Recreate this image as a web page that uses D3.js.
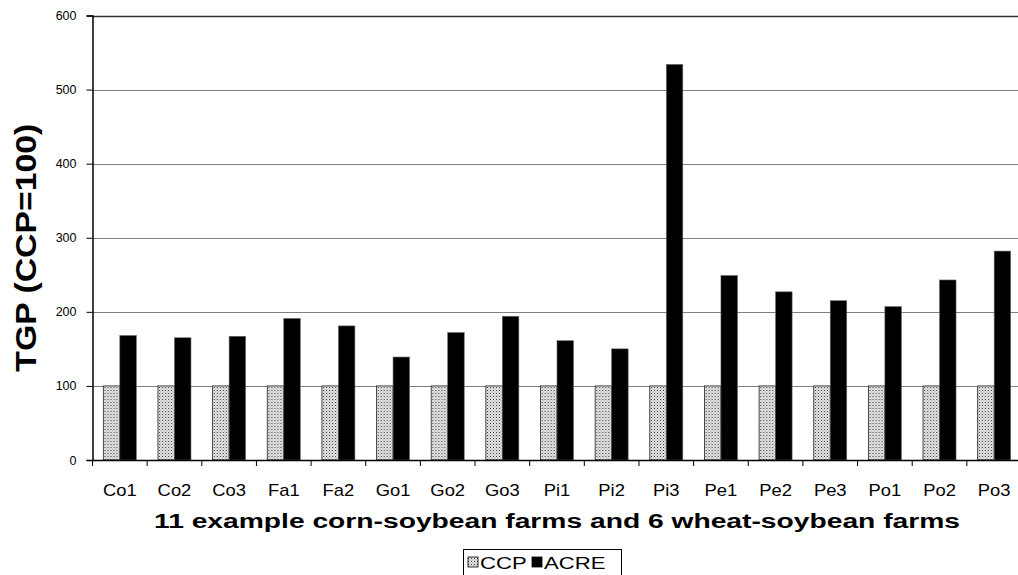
<!DOCTYPE html>
<html>
<head>
<meta charset="utf-8">
<script src="https://cdn.jsdelivr.net/npm/d3@7"></script>
<style>
  html, body { margin: 0; padding: 0; background: #fff; }
  svg { display: block; font-family: "Liberation Sans", Arial, sans-serif; }
</style>
</head>
<body>
<svg id="chart" width="1018" height="575"></svg>
<script>
const categories = ["Co1","Co2","Co3","Fa1","Fa2","Go1","Go2","Go3","Pi1","Pi2","Pi3","Pe1","Pe2","Pe3","Po1","Po2","Po3"];
const seriesNames = ["CCP","ACRE"];
const ccpValues  = [100,100,100,100,100,100,100,100,100,100,100,100,100,100,100,100,100];
const acreValues = [168,165,167,191,181,139,172,194,161,150,534,249,227,215,207,243,282];
const yTicks = [0,100,200,300,400,500,600];
const yTitle = "TGP (CCP=100)";
const xTitle = "11 example corn-soybean farms and 6 wheat-soybean farms";

(function () {
const FONT = '"Liberation Sans", Arial, sans-serif';
const svg = d3.select("#chart");
const defs = svg.append("defs");
const pat = defs.append("pattern").attr("id","dots").attr("patternUnits","userSpaceOnUse")
  .attr("width",3).attr("height",3);
pat.append("rect").attr("width",3).attr("height",3).attr("fill","#e6e6e6");
pat.append("rect").attr("x",0).attr("y",0).attr("width",1).attr("height",1).attr("fill","#333");
pat.append("rect").attr("x",1.5).attr("y",1.5).attr("width",1).attr("height",1).attr("fill","#888");

const mLeft = 92.5, mTop = 15.5, mBottom = 460, mRight = 1021.5;
const x = d3.scaleBand().domain(categories).range([mLeft, mRight]).paddingInner(0).paddingOuter(0);
const y = d3.scaleLinear().domain([0,600]).range([mBottom, mTop]);
const inner = d3.scaleBand().domain(seriesNames).range([0, x.bandwidth()]).paddingInner(0).paddingOuter(0.656);

// gridlines
svg.append("g").selectAll("line").data(yTicks.filter(d => d > 0)).join("line")
  .attr("x1", mLeft).attr("x2", mRight)
  .attr("y1", d => Math.round(y(d)) + 0.5).attr("y2", d => Math.round(y(d)) + 0.5)
  .attr("stroke", d => d === 600 ? "#333" : "#808080").attr("stroke-width", d => d === 600 ? 1.5 : 1);

// bars
const groups = svg.append("g").selectAll("g").data(categories).join("g")
  .attr("transform", d => `translate(${x(d)},0)`);
groups.append("rect")
  .attr("x", () => inner("CCP"))
  .attr("y", (d,i) => y(ccpValues[i]))
  .attr("width", inner.bandwidth())
  .attr("height", (d,i) => y(0) - y(ccpValues[i]))
  .attr("fill", "url(#dots)").attr("stroke", "#222").attr("stroke-width", 0.8);
groups.append("rect")
  .attr("x", () => inner("ACRE"))
  .attr("y", (d,i) => y(acreValues[i]))
  .attr("width", inner.bandwidth())
  .attr("height", (d,i) => y(0) - y(acreValues[i]))
  .attr("fill", "#000").attr("stroke", "#666").attr("stroke-width", 0.6);

// y axis
const yAxis = svg.append("g").attr("transform", `translate(${mLeft},0)`)
  .call(d3.axisLeft(y).tickValues(yTicks).tickSize(6).tickPadding(10));
yAxis.attr("font-family", null);
yAxis.select(".domain").attr("stroke","#000").attr("stroke-width",1.5);
yAxis.selectAll(".tick line").attr("stroke","#000");
yAxis.selectAll(".tick text").attr("font-size", 12.5).attr("fill","#000")
  .style("font-family", FONT);

// x axis
const xAxis = svg.append("g").attr("transform", `translate(0,${mBottom})`)
  .call(d3.axisBottom(x).tickSize(0).tickPadding(0));
xAxis.select(".domain").attr("stroke","#000").attr("stroke-width",1.5);
xAxis.selectAll(".tick text").remove();
svg.append("g").selectAll("line").data(categories).join("line")
  .attr("x1", d => x(d)).attr("x2", d => x(d))
  .attr("y1", mBottom).attr("y2", mBottom + 6).attr("stroke","#000");
svg.append("g").selectAll("text").data(categories).join("text")
  .attr("transform", d => `translate(${x(d) + x.bandwidth()/2},${mBottom + 36}) scale(1.15,1)`)
  .attr("text-anchor","middle").attr("font-size", 16).attr("fill","#000")
  .style("font-family", FONT)
  .text(d => d);

// axis titles
svg.append("text")
  .attr("transform", `translate(${(mLeft + mRight)/2},${mBottom + 68})`)
  .attr("text-anchor","middle").attr("font-size", 20).attr("font-weight","bold")
  .style("font-family", FONT)
  .attr("textLength", 806).attr("lengthAdjust","spacingAndGlyphs")
  .text(xTitle);
svg.append("text")
  .attr("transform", `translate(36,${(mTop + mBottom)/2 + 10}) rotate(-90) scale(1,1.1)`)
  .attr("text-anchor","middle").attr("font-size", 27).attr("font-weight","bold")
  .style("font-family", FONT)
  .attr("textLength", 248).attr("lengthAdjust","spacingAndGlyphs")
  .text(yTitle);

// legend
const lg = svg.append("g");
lg.append("rect").attr("x", 463.5).attr("y", 549.5).attr("width", 158).attr("height", 30)
  .attr("fill","#fff").attr("stroke","#000");
const items = [{name:"CCP", fill:"url(#dots)", sx:468, tx:480},{name:"ACRE", fill:"#000", sx:532, tx:544}];
lg.selectAll("rect.sw").data(items).join("rect").attr("class","sw")
  .attr("x", d => d.sx).attr("y", 557).attr("width", 10).attr("height", 10)
  .attr("fill", d => d.fill).attr("stroke","#000").attr("stroke-width",0.8);
lg.selectAll("text").data(items).join("text")
  .attr("transform", d => `translate(${d.tx},568.5) scale(1.3,1)`)
  .attr("font-size", 17).attr("fill","#000")
  .style("font-family", FONT)
  .text(d => d.name);
})();
</script>
</body>
</html>
